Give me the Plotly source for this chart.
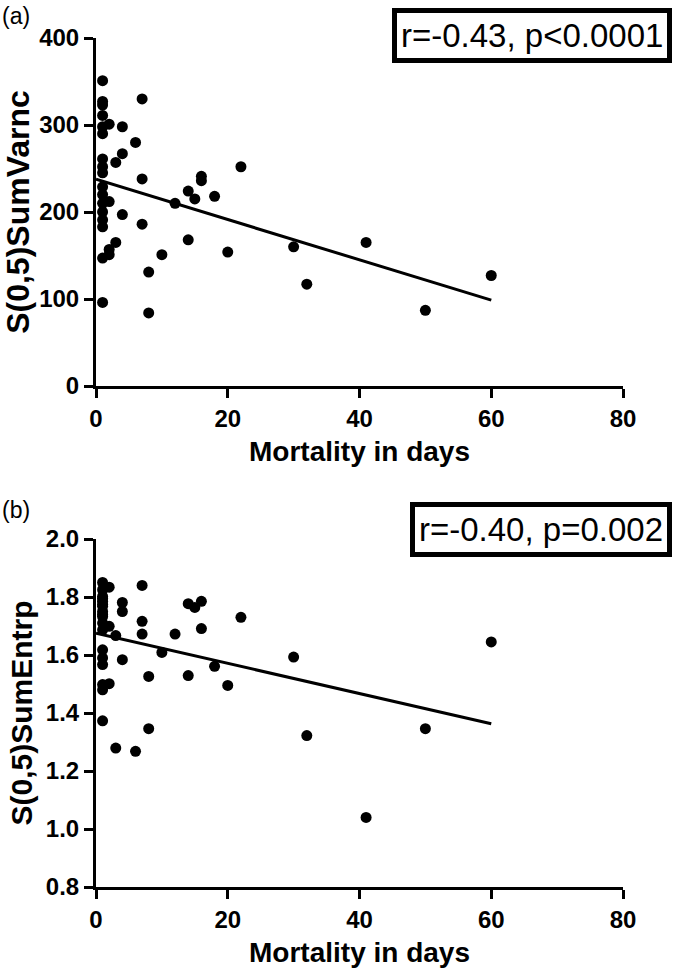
import numpy as np
import plotly.graph_objects as go

# ---------------- data ----------------
# Panel (a): mortality (days) vs S(0,5)SumVarnc
a_days = [1, 7, 1, 1, 1, 2, 1, 4, 1, 6, 4, 3, 1, 1, 22, 1, 7, 16, 16, 1, 14, 18, 15, 1,
          2, 1, 12, 1, 4, 1, 1, 7, 14, 3, 2, 2, 1, 10, 20, 8, 1, 8, 30, 32, 41, 50, 60]
a_varnc = [351, 330, 327, 323, 311, 301, 298, 298, 290, 280, 267, 257, 261, 252, 252, 245,
           238, 241, 236, 229, 224, 218, 215, 220, 212, 210, 210, 200, 197, 191, 183, 186,
           168, 165, 157, 151, 147, 151, 154, 131, 96, 84, 160, 117, 165, 87, 127]

# Panel (b): mortality (days) vs S(0,5)SumEntrp
b_days = [1, 2, 7, 1, 1, 1, 1, 1, 1, 1, 4, 4, 7, 7, 2, 3, 14, 15, 16, 12, 16, 22, 1, 1,
          1, 4, 10, 8, 14, 18, 20, 1, 2, 1, 1, 8, 3, 6, 30, 32, 41, 50, 60,
          1, 1, 1, 1]
b_entrp = [1.850, 1.834, 1.840, 1.802, 1.785, 1.768, 1.750, 1.733, 1.710, 1.687, 1.781,
           1.750, 1.716, 1.672, 1.699, 1.667, 1.777, 1.764, 1.785, 1.672, 1.691, 1.730,
           1.618, 1.590, 1.567, 1.584, 1.609, 1.526, 1.529, 1.561, 1.495, 1.498, 1.501,
           1.480, 1.373, 1.346, 1.279, 1.268, 1.593, 1.322, 1.040, 1.346, 1.645,
           1.825, 1.795, 1.775, 1.740]

x_ticks = [0, 20, 40, 60, 80]
a_ticks = [0, 100, 200, 300, 400]
b_ticks = [0.8, 1.0, 1.2, 1.4, 1.6, 1.8, 2.0]

a_stat = "r=-0.43, p<0.0001"
b_stat = "r=-0.40, p=0.002"
x_title = "Mortality in days"
a_title = "S(0,5)SumVarnc"
b_title = "S(0,5)SumEntrp"

# ---------------- layout geometry (page pixels; body margin removed below) ----------------
W, H = 681, 972
PL, PR, PT, PB = 96, 623, 38, 887          # plot area edges
ML, MT = PL, PT
MR, MB = W - PR, H - PB
PW, PH = PR - PL, PB - PT


def px2x(px):
    return (px - PL) / PW


def py2y(py):
    return (PB - py) / PH


FONT = "Liberation Sans, Arial, Helvetica, sans-serif"

fig = go.Figure()


def add_panel(xs, ys, xa, ya):
    xs = np.array(xs, float)
    ys = np.array(ys, float)
    fig.add_trace(go.Scatter(x=xs, y=ys, mode="markers", xaxis=xa, yaxis=ya,
                             marker=dict(color="black", size=11, line=dict(width=0)),
                             cliponaxis=False, showlegend=False))
    slope, icpt = np.polyfit(xs, ys, 1)
    lx = np.array([0, xs.max()])
    fig.add_trace(go.Scatter(x=lx, y=icpt + slope * lx, mode="lines", xaxis=xa, yaxis=ya,
                             line=dict(color="black", width=3), showlegend=False))


add_panel(a_days, a_varnc, "x", "y")
add_panel(b_days, b_entrp, "x2", "y2")

top_dom = [py2y(386), 1.0]
bot_dom = [0.0, py2y(539)]

axis_common = dict(showline=True, linecolor="black", linewidth=3, ticks="outside",
                   ticklen=9, tickwidth=3, tickcolor="black", showgrid=False,
                   zeroline=False, automargin=False,
                   tickfont=dict(family=FONT, size=24, color="black", weight="bold"))

xt = dict(text=x_title, font=dict(family=FONT, size=28, color="black", weight="bold"),
          standoff=11)

fig.update_layout(
    width=W, height=H, autosize=False,
    margin=dict(l=ML, r=MR, t=MT, b=MB),
    paper_bgcolor="white", plot_bgcolor="white",
    xaxis=dict(domain=[0, 1], range=[0, 80], tickvals=x_ticks, anchor="y",
               title=xt, **axis_common),
    yaxis=dict(domain=top_dom, range=[0, 400], tickvals=a_ticks, anchor="x",
               title=dict(text=a_title, standoff=25,
                          font=dict(family=FONT, size=32, color="black", weight="bold")),
               **axis_common),
    xaxis2=dict(domain=[0, 1], range=[0, 80], tickvals=x_ticks, anchor="y2",
                title=xt, **axis_common),
    yaxis2=dict(domain=bot_dom, range=[0.8, 2.0], tickvals=b_ticks, tickformat=".1f",
                anchor="x2",
                title=dict(text=b_title, standoff=5,
                           font=dict(family=FONT, size=30, color="black", weight="bold")),
                **axis_common),
)

box_font = dict(family=FONT, size=33, color="black")
fig.add_annotation(xref="paper", yref="paper", x=px2x(672), y=py2y(8),
                   xanchor="right", yanchor="top", text=a_stat, showarrow=False,
                   font=box_font, bordercolor="black", borderwidth=5, borderpad=4,
                   bgcolor="white")
fig.add_annotation(xref="paper", yref="paper", x=px2x(672), y=py2y(502),
                   xanchor="right", yanchor="top", text=b_stat, showarrow=False,
                   font=box_font, bordercolor="black", borderwidth=5, borderpad=4,
                   bgcolor="white")

lab_font = dict(family=FONT, size=23, color="black")
fig.add_annotation(xref="paper", yref="paper", x=px2x(0), y=py2y(1),
                   xanchor="left", yanchor="top", text="(a)", showarrow=False, font=lab_font)
fig.add_annotation(xref="paper", yref="paper", x=px2x(0), y=py2y(495),
                   xanchor="left", yanchor="top", text="(b)", showarrow=False, font=lab_font)

fig.write_html("out.html", config={"displayModeBar": False},
               post_script="document.body.style.margin='0';document.body.style.padding='0';")
